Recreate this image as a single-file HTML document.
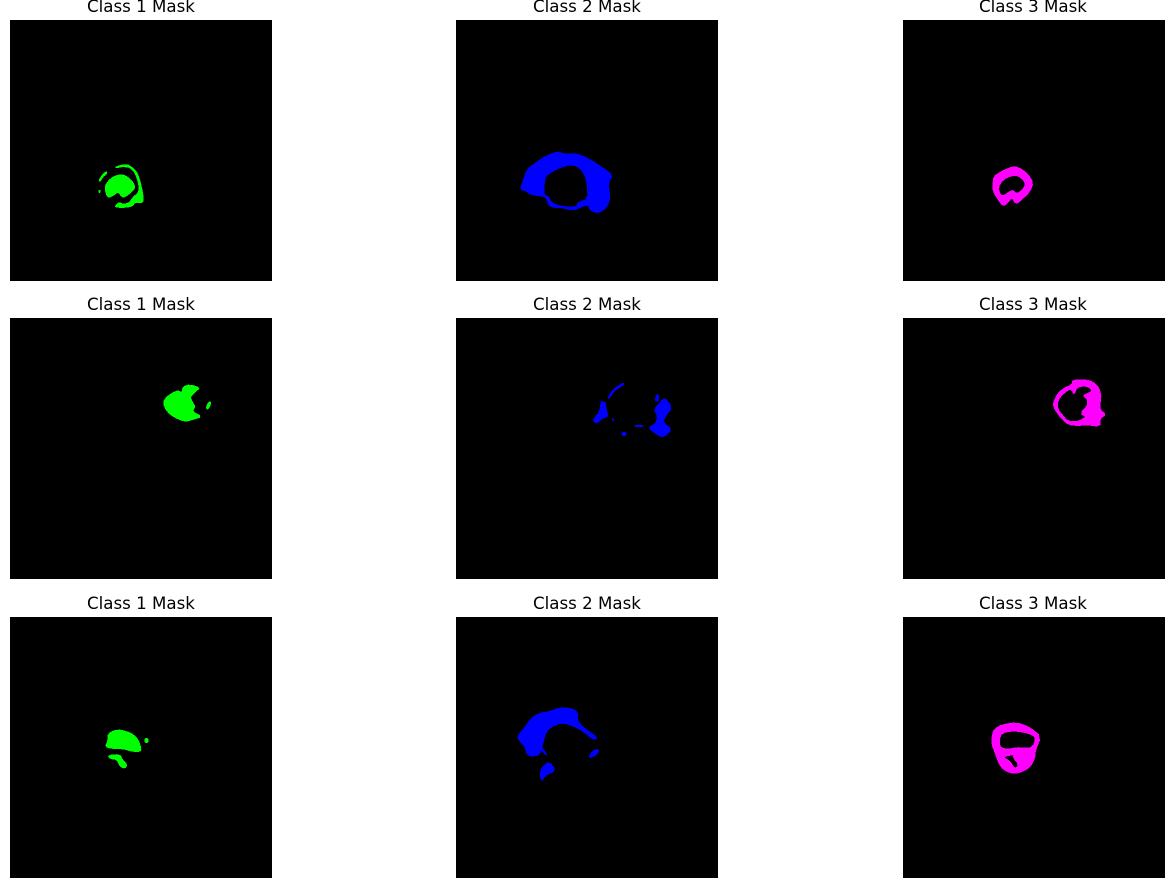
<!DOCTYPE html>
<html>
<head>
<meta charset="utf-8">
<title>Class masks</title>
<style>
html,body{margin:0;padding:0;background:#fff;width:1173px;height:885px;overflow:hidden}
svg{display:block}
text{font-family:"DejaVu Sans",sans-serif;font-size:16.67px;fill:#000;text-anchor:middle}
</style>
</head>
<body>
<svg id="figure" width="1173" height="885" viewBox="0 0 1173 885" xmlns="http://www.w3.org/2000/svg"></svg>
<script>
const classNames = ['Class 1 Mask', 'Class 2 Mask', 'Class 3 Mask'];
const classColors = ['#00ff00', '#0000ff', '#ff00ff'];
const imageSize = 262;

const row1Class1 = [
  [[95,167],[98,162],[104,157],[112,155],[118,158],[123,163],[125,168],[122,172],[116,177],[112,178],[109,173],[107,173],[102,177],[98,178],[96,174]],
  [[105,148],[110,146],[117,145],[122,148],[127,153],[130,162],[132,171],[133,177],[133,183],[128,183],[125,183],[122,187],[116,188],[107,188],[105,187],[109,183],[113,185],[119,184],[123,178],[129,173],[129,165],[125,153],[120,148],[113,147],[108,148]],
  [[89,161],[92,156],[96,152],[97,154],[93,157],[90,162]],
  [[89,171],[90,171],[90,173],[89,173]]
];
const row1Class2 = [
  [[64,170],[67,162],[71,150],[79,144],[89,137],[102,132],[109,135],[121,134],[134,140],[146,148],[157,156],[152,163],[154,178],[151,188],[142,194],[134,191],[132,185],[122,189],[117,191],[104,188],[97,188],[93,186],[90,178],[87,177],[74,175],[71,172]],
  [[89,157],[96,152],[107,147],[117,145],[126,150],[131,162],[132,180],[122,183],[121,187],[116,188],[104,187],[96,184],[92,177],[88,176],[88,167]]
];
const row1Class3 = [
  [[90,163],[91,157],[97,153],[105,149],[112,147],[119,150],[125,155],[130,163],[127,172],[119,180],[113,185],[109,178],[105,183],[100,187],[95,180],[90,172]],
  [[95,168],[100,160],[109,156],[115,156],[122,162],[122,168],[114,175],[110,171],[107,172],[100,177],[97,175]]
];
const row2Class1 = [
  [[153,85],[157,79],[163,75],[168,73],[172,75],[173,69],[180,67],[190,70],[185,74],[180,79],[182,84],[185,89],[182,94],[192,99],[182,102],[175,104],[165,100],[157,94]],
  [[196,90],[199,84],[201,85],[198,92]]
];
const row2Class2 = [
  [[152,80],[157,72],[167,65],[168,67],[158,73],[153,81]],
  [[137,102],[144,94],[145,83],[147,85],[149,84],[150,90],[152,99],[147,100],[142,105],[139,105]],
  [[156,101],[157,101],[158,103],[157,103]],
  [[166,115],[170,115],[170,118],[166,118]],
  [[179,108],[187,108],[187,109],[179,109]],
  [[199,83],[201,76],[203,79],[202,84]],
  [[198,92],[204,85],[209,80],[216,90],[209,99],[207,105],[216,112],[207,120],[201,117],[192,110],[199,107],[202,99]]
];
const row2Class3 = [
  [[150,86],[154,77],[160,71],[169,67],[170,62],[185,62],[194,67],[198,76],[197,86],[197,92],[203,97],[197,101],[197,109],[184,107],[175,108],[165,107],[157,99],[152,92]],
  [[154,86],[157,79],[165,72],[169,72],[171,77],[174,69],[184,68],[190,73],[184,76],[180,78],[185,82],[184,89],[177,96],[184,99],[175,104],[165,104],[159,97],[155,92]]
];
const row3Class1 = [
  [[98,117],[107,113],[117,115],[123,118],[128,123],[131,132],[130,135],[123,135],[112,132],[102,132],[95,130],[98,125]],
  [[98,139],[110,138],[112,143],[117,148],[115,152],[110,150],[107,143],[100,142]],
  [[135,122],[138,122],[138,126],[135,126]]
];
const row3Class2 = [
  [[61,120],[69,111],[74,103],[82,97],[94,95],[104,91],[116,92],[122,96],[121,103],[127,111],[139,119],[141,122],[137,123],[129,116],[119,110],[107,106],[97,109],[90,115],[87,126],[84,138],[76,140],[71,138],[69,130],[64,125]],
  [[85,130],[91,138],[89,138],[84,131]],
  [[132,142],[137,134],[143,133],[141,138]],
  [[84,158],[86,151],[93,145],[100,154],[89,159],[86,165]]
];
const row3Class3 = [
  [[89,120],[91,113],[99,108],[114,106],[127,111],[138,120],[132,135],[132,141],[127,151],[115,157],[105,156],[97,150],[92,136],[89,128]],
  [[96,123],[99,116],[112,114],[127,117],[133,121],[130,131],[120,132],[114,131],[105,133],[97,131]],
  [[99,140],[112,138],[110,141],[116,148],[112,153],[107,145]]
];
const maskGrid = [
  [row1Class1, row1Class2, row1Class3],
  [row2Class1, row2Class2, row2Class3],
  [row3Class1, row3Class2, row3Class3]
];

const NS = 'http://www.w3.org/2000/svg';
const figure = document.getElementById('figure');
const panelLefts = [10, 456, 903];
const panelTops = [20, 318, 617];
const titleCenters = [141, 587, 1033];
const panelWidth = 262;
const panelHeight = 261;

function xScale(col, value) {
  return panelLefts[col] + value * panelWidth / imageSize;
}
function yScale(row, value) {
  return panelTops[row] + value * panelHeight / imageSize;
}
// One corner-cutting pass so the hand-read outlines look like rounded mask blobs.
function smooth(polygon) {
  const out = [];
  polygon.forEach(function (p, i) {
    const q = polygon[(i + 1) % polygon.length];
    out.push([p[0] * 0.75 + q[0] * 0.25, p[1] * 0.75 + q[1] * 0.25]);
    out.push([p[0] * 0.25 + q[0] * 0.75, p[1] * 0.25 + q[1] * 0.75]);
  });
  return out;
}

maskGrid.forEach(function (rowMasks, r) {
  rowMasks.forEach(function (polygons, c) {
    const group = document.createElementNS(NS, 'g');
    
    

    const title = document.createElementNS(NS, 'text');
    
    
    title.setAttribute('x', titleCenters[c]);
    title.setAttribute('y', panelTops[r] - 8);
    title.textContent = classNames[c];
    group.appendChild(title);

    const background = document.createElementNS(NS, 'rect');
    
    
    background.setAttribute('x', panelLefts[c]);
    background.setAttribute('y', panelTops[r]);
    background.setAttribute('width', panelWidth);
    background.setAttribute('height', panelHeight);
    background.setAttribute('fill', '#000');
    group.appendChild(background);

    let d = '';
    polygons.forEach(function (polygon) {
      smooth(polygon).forEach(function (point, i) {
        d += (i === 0 ? 'M' : 'L') + xScale(c, point[0]).toFixed(1) + ' ' + yScale(r, point[1]).toFixed(1);
      });
      d += 'Z';
    });
    const region = document.createElementNS(NS, 'path');
    
    
    region.setAttribute('d', d);
    region.setAttribute('fill', classColors[c]);
    region.setAttribute('fill-rule', 'evenodd');
    region.setAttribute('stroke', classColors[c]);
    region.setAttribute('stroke-width', '1');
    region.setAttribute('stroke-linejoin', 'round');
    region.setAttribute('shape-rendering', 'crispEdges');
    group.appendChild(region);

    figure.appendChild(group);
  });
});
</script>
</body>
</html>
